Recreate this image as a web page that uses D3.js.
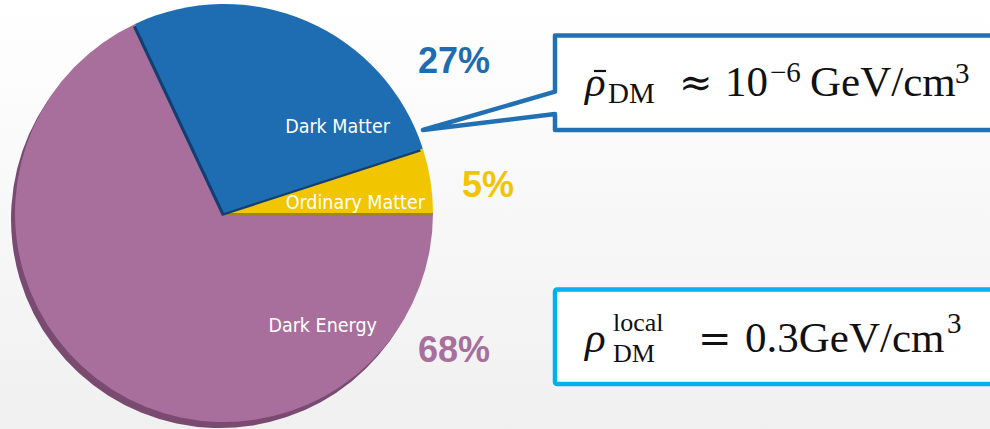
<!DOCTYPE html>
<html>
<head>
<meta charset="utf-8">
<script src="https://cdn.jsdelivr.net/npm/d3@7"></script>
<style>
  body { margin: 0; background: #fff; }
  svg { display: block; }
</style>
</head>
<body>
<div id="chart"></div>
<script>
// Slices, counter-clockwise from 3 o'clock
const categories = ["Ordinary Matter", "Dark Matter", "Dark Energy"];
const shares = [5, 27, 68];
const percentLabels = ["5%", "27%", "68%"];
const topColors = ["#f1c500", "#1e6cb1", "#a86f9c"];
const shadeColors = ["#a3861a", "#123f70", "#7a4b71"];

const width = 990, height = 429;
const cx = 224, cy = 213, radius = 209;

const svg = d3.select("#chart").append("svg")
    .attr("width", width)
    .attr("height", height);

// Background gradient
const defs = svg.append("defs");
const bg = defs.append("linearGradient")
    .attr("id", "bg").attr("x1", 0).attr("y1", 0).attr("x2", 0).attr("y2", 1);
bg.append("stop").attr("offset", "0%").attr("stop-color", "#ffffff");
bg.append("stop").attr("offset", "100%").attr("stop-color", "#f0f0f0");
svg.append("rect").attr("width", width).attr("height", height).attr("fill", "url(#bg)");

const data = categories.map((c, i) => ({
    name: c, share: shares[i], pct: percentLabels[i],
    color: topColors[i], shade: shadeColors[i]
}));

const pie = d3.pie()
    .sort(null)
    .value(d => d.share)
    .startAngle(Math.PI / 2)
    .endAngle(Math.PI / 2 - 2 * Math.PI);

const arc = d3.arc().innerRadius(0).outerRadius(radius);
const arcs = pie(data);

const g = svg.append("g").attr("transform", `translate(${cx},${cy})`);

// draw order: Dark Energy, Ordinary Matter, Dark Matter (gives the edge shading)
const order = ["Dark Energy", "Ordinary Matter", "Dark Matter"];
order.forEach(name => {
    const a = arcs.find(d => d.data.name === name);
    const off = name === "Dark Energy" ? [-4, 6] : [-2, 3];
    g.append("path")
        .attr("d", arc(a))
        .attr("transform", `translate(${off[0]},${off[1]})`)
        .attr("fill", a.data.shade);
    g.append("path")
        .attr("d", arc(a))
        .attr("fill", a.data.color);
});

// Labels inside slices (anchored at end, offsets from centre)
const labelPos = {
    "Dark Matter": [166, -80],
    "Ordinary Matter": [201, -4],
    "Dark Energy": [153, 119]
};
g.selectAll(".slice-label")
    .data(arcs)
    .enter().append("text")
    .attr("class", "slice-label")
    .attr("x", d => labelPos[d.data.name][0])
    .attr("y", d => labelPos[d.data.name][1])
    .attr("text-anchor", "end")
    .attr("fill", "#fff")
    .attr("font-family", "'DejaVu Sans Condensed', 'DejaVu Sans', sans-serif")
    .attr("font-stretch", "condensed")
    .attr("font-size", 19.5)
    .text(d => d.data.name);

// Percentages outside
const pctPos = {
    "Dark Matter": [418, 73],
    "Ordinary Matter": [462, 197],
    "Dark Energy": [418, 362]
};
svg.selectAll(".pct")
    .data(arcs)
    .enter().append("text")
    .attr("class", "pct")
    .attr("x", d => pctPos[d.data.name][0])
    .attr("y", d => pctPos[d.data.name][1])
    .attr("fill", d => d.data.color)
    .attr("font-family", "'Liberation Sans', Arial, sans-serif")
    .attr("font-weight", "bold")
    .attr("font-size", 36)
    .text(d => d.data.pct);

// Callout box for mean density
svg.append("path")
    .attr("d", "M555,35.5 L996,35.5 L996,130 L555,130 L555,114 L423,130 L555,91.7 Z")
    .attr("fill", "#fff")
    .attr("stroke", "#2170b4")
    .attr("stroke-width", 4.5)
    .attr("stroke-linejoin", "round");

// Box for local density
svg.append("rect")
    .attr("x", 555).attr("y", 289.5)
    .attr("width", 445).attr("height", 94.5)
    .attr("rx", 2)
    .attr("fill", "#fff")
    .attr("stroke", "#00b0f0")
    .attr("stroke-width", 4.5);

const serif = "'Liberation Serif', 'Times New Roman', serif";
const big = 43, small = 29;

// one text per formula, pieces placed as tspans
function formula(pieces) {
    const t = svg.append("text")
        .attr("font-family", serif)
        .attr("fill", "#111");
    pieces.forEach(p => {
        t.append("tspan")
            .attr("x", p.x).attr("y", p.y)
            .attr("font-size", p.size)
            .attr("font-style", p.italic ? "italic" : "normal")
            .attr("font-family", p.family || serif)
            .text(p.t);
    });
    return t;
}

// rho-bar_DM ≈ 10^-6 GeV/cm^3
formula([
    {x: 585, y: 96, t: "ρ", size: big, italic: true},
    {x: 608, y: 103, t: "DM", size: small},
    {x: 679, y: 96, t: "≈", size: 40, family: "'DejaVu Serif', serif"},
    {x: 725, y: 96, t: "10", size: big},
    {x: 770, y: 82, t: "−6", size: small},
    {x: 810, y: 96, t: "GeV/cm", size: big},
    {x: 955, y: 83, t: "3", size: small}
]);
svg.append("line")
    .attr("x1", 594).attr("x2", 606)
    .attr("y1", 71).attr("y2", 71)
    .attr("stroke", "#111").attr("stroke-width", 2.2);

// rho^local_DM = 0.3 GeV/cm^3
formula([
    {x: 585, y: 352, t: "ρ", size: big, italic: true},
    {x: 613, y: 331, t: "local", size: 26},
    {x: 613, y: 362, t: "DM", size: 26},
    {x: 698, y: 352, t: "=", size: 40, family: "'DejaVu Serif', serif"},
    {x: 745, y: 352, t: "0.3GeV/cm", size: big},
    {x: 947, y: 333, t: "3", size: small}
]);
</script>
</body>
</html>
